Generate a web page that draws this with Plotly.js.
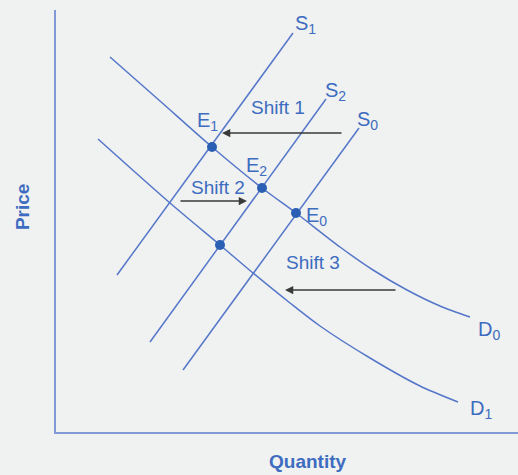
<!DOCTYPE html>
<html>
<head>
<meta charset="utf-8">
<script src="https://cdn.plot.ly/plotly-3.0.1.min.js"></script>
<style>
html,body{margin:0;padding:0;background:#f0f1f1;}
#chart{width:518px;height:475px;}
</style>
</head>
<body>
<div id="chart"></div>
<script>
// Coordinates are in chart units: x = quantity, y = price (0..462, 0..422)
const s1X = [61, 237];
const s1Y = [157, 399];
const s2X = [94, 270];
const s2Y = [90, 333];
const s0X = [127, 303];
const s0Y = [62, 304];
const d0X = [54, 104, 156, 206, 240, 284, 317, 351, 384, 414];
const d0Y = [375, 331, 285, 244, 219, 185, 162, 142, 126, 115];
const d1X = [42, 114, 164, 197, 234, 264, 314, 364, 402];
const d1Y = [293, 229, 187, 159, 129, 106, 74, 46, 30];
const eqNames = ["E1", "E2", "E0", ""];
const eqX = [156, 206, 240, 164];
const eqY = [285, 244, 219, 187];
// shift arrows: tail -> head
const shiftNames = ["Shift 1", "Shift 2", "Shift 3"];
const arrowTailX = [287, 123, 341];
const arrowHeadX = [166, 191, 229];
const arrowY = [299, 231, 142];
const shiftLabelX = [222, 162, 257];
const shiftLabelY = [325, 245, 170];
// curve labels
const curveLabels = ["S<sub>1</sub>", "S<sub>2</sub>", "S<sub>0</sub>", "E<sub>1</sub>", "E<sub>2</sub>", "E<sub>0</sub>", "D<sub>0</sub>", "D<sub>1</sub>"];
const curveLabelX = [249, 279, 311, 151, 200, 260, 433, 425];
const curveLabelY = [408, 341, 312, 311, 266, 216, 102, 23];

const lineColor = "#5577c9";
const textColor = "#3d6cc0";
const dotColor = "#2b5fb3";
const font = "Liberation Sans, Arial, sans-serif";

function curve(x, y, spline) {
  return {x: x, y: y, type: "scatter", mode: "lines",
    line: {color: lineColor, width: 1.5, shape: spline ? "spline" : "linear", smoothing: 0.8},
    hoverinfo: "skip", showlegend: false};
}

const data = [
  curve(s1X, s1Y, false),
  curve(s2X, s2Y, false),
  curve(s0X, s0Y, false),
  curve(d0X, d0Y, true),
  curve(d1X, d1Y, true),
  {x: eqX, y: eqY, type: "scatter", mode: "markers", text: eqNames,
   marker: {color: dotColor, size: 10}, hoverinfo: "skip", showlegend: false}
];

const annotations = [];
for (let i = 0; i < arrowHeadX.length; i++) {
  annotations.push({
    x: arrowHeadX[i], y: arrowY[i], xref: "x", yref: "y",
    ax: arrowTailX[i], ay: arrowY[i], axref: "x", ayref: "y",
    text: "", showarrow: true, arrowhead: 2, arrowsize: 1.1, arrowwidth: 1.5,
    arrowcolor: "#3a3a3a"
  });
  annotations.push({
    x: shiftLabelX[i], y: shiftLabelY[i], xref: "x", yref: "y",
    text: shiftNames[i], showarrow: false,
    font: {family: font, size: 19, color: textColor}
  });
}
for (let i = 0; i < curveLabels.length; i++) {
  annotations.push({
    x: curveLabelX[i], y: curveLabelY[i], xref: "x", yref: "y",
    text: curveLabels[i], showarrow: false,
    font: {family: font, size: 20, color: textColor}
  });
}
annotations.push({
  x: -0.0736, y: 0.533, xref: "paper", yref: "paper", text: "<b>Price</b>",
  xanchor: "center", yanchor: "middle",
  textangle: -90, showarrow: false, font: {family: font, size: 19, color: textColor}
});
annotations.push({
  x: 0.545, y: -0.071, xref: "paper", yref: "paper", text: "<b>Quantity</b>",
  xanchor: "center", yanchor: "middle",
  showarrow: false, font: {family: font, size: 19, color: textColor}
});

const layout = {
  width: 518, height: 475,
  margin: {l: 56, r: 0, t: 10, b: 43, pad: 0},
  paper_bgcolor: "#f0f1f1", plot_bgcolor: "#f0f1f1",
  xaxis: {range: [0, 462], showgrid: false, zeroline: false, showticklabels: false,
          ticks: "", showline: true, linecolor: "#8299d8", linewidth: 2, fixedrange: true},
  yaxis: {range: [0, 422], showgrid: false, zeroline: false, showticklabels: false,
          ticks: "", showline: true, linecolor: "#8299d8", linewidth: 2, fixedrange: true},
  annotations: annotations,
  showlegend: false
};

Plotly.newPlot("chart", data, layout, {displayModeBar: false, staticPlot: true});
</script>
</body>
</html>
